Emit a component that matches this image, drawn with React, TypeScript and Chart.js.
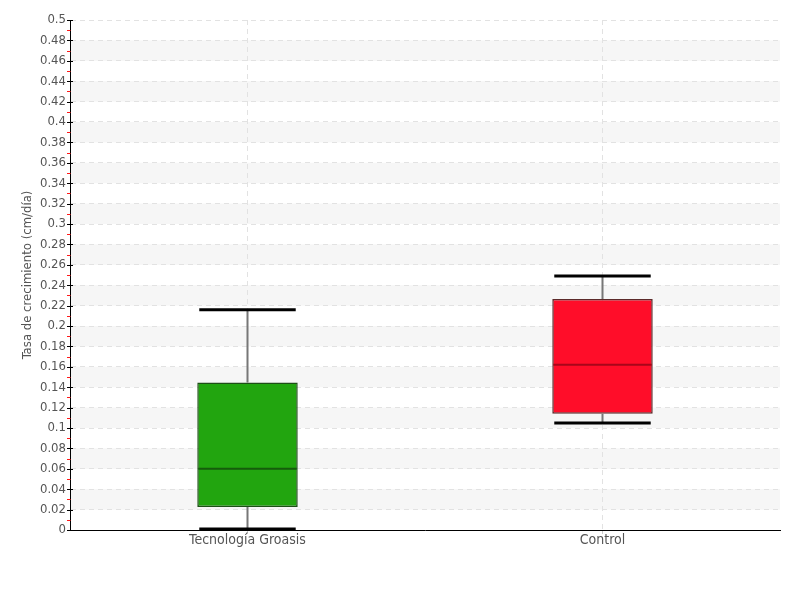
import React, { useEffect, useRef } from "react";
import { Chart, registerables } from "chart.js";

Chart.register(...registerables);

const categories = ["Tecnología Groasis", "Control"];
const minValues = [0.001, 0.105];
const q1Values = [0.0225, 0.114];
const medianValues = [0.06, 0.162];
const q3Values = [0.1445, 0.2265];
const maxValues = [0.216, 0.249];
const boxColors = ["#22a50f", "#ff0d29"];
const boxBorders = ["#1d4f16", "#5c2a2a"];
const medianColors = ["#155d0b", "#a8061a"];
const yTitle = "Tasa de crecimiento (cm/día)";
const yMin = 0;
const yMax = 0.5;
const yStep = 0.02;

const FONT = "'Liberation Sans Narrow', 'DejaVu Sans Condensed', 'Roboto', sans-serif";

const decorPlugin = {
  id: "decor",
  beforeDraw(chart: any) {
    const { ctx, chartArea, scales } = chart;
    const y = scales.y;
    ctx.save();
    ctx.fillStyle = "#f6f6f6";
    for (let v = 0.02; v < yMax - 1e-9; v += 0.04) {
      const top = y.getPixelForValue(v + 0.02);
      const bot = y.getPixelForValue(v);
      ctx.fillRect(chartArea.left, top, chartArea.right - chartArea.left, bot - top);
    }
    ctx.restore();
  },
  afterDraw(chart: any) {
    const { ctx, chartArea, scales } = chart;
    const y = scales.y;
    const ax = chartArea.left;
    ctx.save();
    ctx.strokeStyle = "#ff1a1a";
    ctx.lineWidth = 1;
    for (let v = 0.01; v < yMax; v += 0.02) {
      const py = Math.round(y.getPixelForValue(v)) + 0.5;
      ctx.beginPath();
      ctx.moveTo(ax - 3, py);
      ctx.lineTo(ax + 0.5, py);
      ctx.stroke();
    }
    ctx.strokeStyle = "#000";
    for (let v = 0; v <= yMax + 1e-9; v += yStep) {
      const py = Math.round(y.getPixelForValue(v)) + 0.5;
      ctx.beginPath();
      ctx.moveTo(ax - 3, py);
      ctx.lineTo(ax + 3, py);
      ctx.stroke();
    }
    ctx.restore();
  },
  afterDatasetsDraw(chart: any) {
    const { ctx, scales } = chart;
    const y = scales.y;
    const meta = chart.getDatasetMeta(0);
    ctx.save();
    meta.data.forEach((bar: any, i: number) => {
      const x = bar.x;
      const w = bar.width;
      const pMin = y.getPixelForValue(minValues[i]);
      const pQ1 = y.getPixelForValue(q1Values[i]);
      const pMed = y.getPixelForValue(medianValues[i]);
      const pQ3 = y.getPixelForValue(q3Values[i]);
      const pMax = y.getPixelForValue(maxValues[i]);
      ctx.strokeStyle = "#777";
      ctx.lineWidth = 2;
      ctx.beginPath();
      ctx.moveTo(x, pQ3);
      ctx.lineTo(x, pMax);
      ctx.moveTo(x, pQ1);
      ctx.lineTo(x, pMin);
      ctx.stroke();
      const cw = w * 0.96;
      ctx.strokeStyle = "#000";
      ctx.lineWidth = 3;
      ctx.beginPath();
      ctx.moveTo(x - cw / 2, pMax);
      ctx.lineTo(x + cw / 2, pMax);
      ctx.moveTo(x - cw / 2, pMin);
      ctx.lineTo(x + cw / 2, pMin);
      ctx.stroke();
      ctx.strokeStyle = medianColors[i];
      ctx.lineWidth = 2;
      ctx.beginPath();
      ctx.moveTo(x - w / 2 + 1, pMed);
      ctx.lineTo(x + w / 2 - 1, pMed);
      ctx.stroke();
    });
    ctx.restore();
  },
};

export default function App() {
  const ref = useRef<HTMLCanvasElement>(null);
  useEffect(() => {
    if (!ref.current) return;
    Chart.defaults.font.family = FONT;
    const chart = new Chart(ref.current, {
      type: "bar",
      data: {
        labels: categories,
        datasets: [
          {
            data: categories.map((_, i) => [q1Values[i], q3Values[i]]) as any,
            backgroundColor: boxColors,
            borderColor: boxBorders,
            borderWidth: 1.5,
            borderSkipped: false,
            categoryPercentage: 1,
            barPercentage: 0.283,
          },
        ],
      },
      options: {
        animation: false,
        responsive: false,
        layout: { padding: { top: 20, right: 20, left: 0, bottom: 0 } },
        plugins: { legend: { display: false }, tooltip: { enabled: false } },
        scales: {
          x: {
            offset: true,
            grid: {
              offset: false,
              color: "#e2e2e2",
              drawTicks: true,
              tickLength: 4,
              tickColor: "#ccc",
            } as any,
            border: { color: "#000", width: 1, dash: [5, 4] } as any,
            ticks: { color: "#555", font: { size: 14, family: FONT }, padding: -2 },
            afterFit: (s: any) => {
              s.height = 70;
            },
          },
          y: {
            min: yMin,
            max: yMax,
            ticks: {
              stepSize: yStep,
              autoSkip: false,
              color: "#555",
              font: { size: 13, family: FONT },
              padding: 4,
              callback: (v: any) => String(Math.round(Number(v) * 100) / 100),
            },
            grid: {
              color: "#e2e2e2",
              drawTicks: false,
            },
            border: { color: "#000", width: 1, dash: [5, 4] } as any,
            title: {
              display: true,
              text: yTitle,
              color: "#555",
              font: { size: 13, family: FONT },
              padding: { top: 20, bottom: 0 },
            },
            afterFit: (s: any) => {
              s.width = 70;
            },
          },
        },
      },
      plugins: [decorPlugin],
    });
    return () => chart.destroy();
  }, []);
  return (
    <div style={{ position: "absolute", left: 0, top: 0, width: 800, height: 600 }}>
      <canvas ref={ref} width={800} height={600} />
    </div>
  );
}
